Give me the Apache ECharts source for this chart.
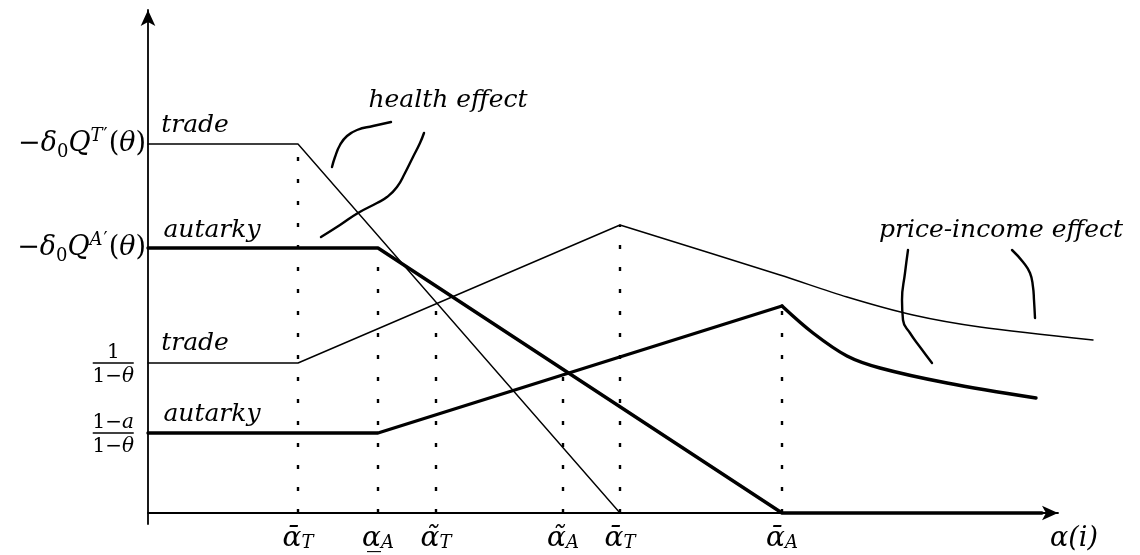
<!DOCTYPE html>
<html>
<head>
<meta charset="utf-8">
<script src="https://cdn.jsdelivr.net/npm/echarts@6/dist/echarts.min.js"></script>
<style>html,body{margin:0;padding:0;background:#fff;}#c{width:1140px;height:555px;}</style>
</head>
<body>
<div id="c"></div>
<script>
// ---- data (x: position along alpha(i), y: value) ----
const tradeHealthX = [0, 150, 472];
const tradeHealthY = [369, 369, 0];
const autarkyHealthX = [0, 230, 634, 894];
const autarkyHealthY = [265, 265, 0, 0];
const tradePIRiseX = [0, 150, 472];
const tradePIRiseY = [150, 150, 288];
const tradePIFallX = [472, 632, 699, 765, 832, 945];
const tradePIFallY = [288, 238, 216, 198, 186, 173];
const autPIRiseX = [0, 230, 634];
const autPIRiseY = [80, 80, 207];
const autPIFallX = [634, 665, 699, 732, 799, 888];
const autPIFallY = [207, 180, 157, 145, 130, 115];
// dotted guides
const dotX = [150, 230, 288, 415, 472, 634];
const dotTop = [369, 265, 209, 139, 288, 207];
// brace strokes
const health1X = [184, 187, 192, 199, 209, 225, 243];
const health1Y = [346, 356, 368, 377, 383, 387, 391];
const health2X = [276, 272, 265, 257, 249, 239, 229, 210, 192, 173];
const health2Y = [380, 370, 356, 340, 326, 316, 310, 300, 288, 276];
const pi1X = [760, 757, 754, 755, 762, 772, 784];
const pi1Y = [263, 240, 213, 193, 180, 166, 150];
const pi2X = [864, 875, 882, 885, 886, 887];
const pi2Y = [263, 251, 240, 226, 213, 195];
// tick labels
const xTickValues = [150, 230, 288, 415, 472, 634];
const xTickLabels = ['\u03B1\u0304_T', '\u03B1\u0332_A', '\u03B1\u0303_T', '\u03B1\u0303_A', '\u03B1\u0304_T', '\u03B1\u0304_A'];
const yTickValues = [369, 265, 150, 80];
const yTickLabels = [
  '{m|\u2212}{i|\u03B4}{sb|0}{i|Q}{sp|T}{pr|\u2032}{m|(}{i|\u03B8}{m|)}',
  '{m|\u2212}{i|\u03B4}{sb|0}{i|Q}{sp|A}{pr|\u2032}{m|(}{i|\u03B8}{m|)}',
  '{fn|1}{g|}\n{bar|}{g|}\n{fd|1\u2212}{fi|\u03B8}{g|}',
  '{fn|1\u2212}{fni|a}{g|}\n{bar|}{g|}\n{fd|1\u2212}{fi|\u03B8}{g|}'
];
const axisName = '\u03B1(i)';
// annotation texts
const annX = [47, 64, 47, 64, 300, 853];
const annY = [388, 283, 170, 99, 413, 283];
const annText = ['trade', 'autarky', 'trade', 'autarky', 'health effect', 'price-income effect'];

// ---- chart ----
const F = 'DejaVu Serif';
const zip = (xs, ys) => xs.map((x, i) => [x, ys[i]]);
const chart = echarts.init(document.getElementById('c'), null, {renderer: 'canvas'});

const thin = 1.4, thick = 3.4;
function lineSeries(xs, ys, w, smooth) {
  return {type: 'line', data: zip(xs, ys), showSymbol: false, symbol: 'none', clip: false,
    smooth: smooth || false, lineStyle: {color: '#000', width: w, cap: 'round', join: 'round'}, z: 5, silent: true};
}
const series = [];
dotX.forEach((x, i) => {
  series.push({type: 'line', data: [[x, 0], [x, dotTop[i]]], symbol: 'none', clip: false, silent: true, z: 2,
    lineStyle: {color: '#000', width: 2.4, type: [4, 18], cap: 'butt'}});
});
series.push(lineSeries(tradeHealthX, tradeHealthY, thin));
series.push(lineSeries(autarkyHealthX, autarkyHealthY, thick));
series.push(lineSeries(tradePIRiseX, tradePIRiseY, thin));
series.push(lineSeries(tradePIFallX, tradePIFallY, thin, 0.3));
series.push(lineSeries(autPIRiseX, autPIRiseY, thick));
series.push(lineSeries(autPIFallX, autPIFallY, thick, 0.35));
series.push(lineSeries(health1X, health1Y, 2.4, 0.5));
series.push(lineSeries(health2X, health2Y, 2.4, 0.5));
series.push(lineSeries(pi1X, pi1Y, 2.4, 0.5));
series.push(lineSeries(pi2X, pi2Y, 2.4, 0.5));
series.push({type: 'scatter', symbolSize: 0, silent: true, clip: false, z: 6,
  itemStyle: {opacity: 1},
  data: annX.map((x, i) => ({value: [x, annY[i]], name: annText[i]})),
  label: {show: true, position: 'inside', formatter: p => p.name, color: '#000', opacity: 1,
    fontFamily: F, fontStyle: 'italic', fontSize: 25}});

const xRich = {
  a: {fontFamily: F, fontStyle: 'italic', fontSize: 28, lineHeight: 26, color: '#000'},
  s: {fontFamily: F, fontStyle: 'italic', fontSize: 18, lineHeight: 14, verticalAlign: 'bottom', color: '#000'}
};
const yRich = {
  m: {fontFamily: F, fontSize: 27, lineHeight: 34, color: '#000'},
  i: {fontFamily: F, fontStyle: 'italic', fontSize: 27, lineHeight: 34, color: '#000'},
  sb: {fontFamily: F, fontSize: 18, lineHeight: 14, verticalAlign: 'bottom', color: '#000'},
  sp: {fontFamily: F, fontStyle: 'italic', fontSize: 18, lineHeight: 14, verticalAlign: 'top', color: '#000'},
  pr: {fontFamily: F, fontSize: 18, lineHeight: 14, verticalAlign: 'top', padding: [0, 1, 0, 1], color: '#000'},
  fn: {fontFamily: F, fontSize: 20, lineHeight: 24, align: 'center', padding: [8, 0, 0, 0], color: '#000'},
  fni: {fontFamily: F, fontStyle: 'italic', fontSize: 20, lineHeight: 24, align: 'center', padding: [8, 0, 0, 0], color: '#000'},
  fd: {fontFamily: F, fontSize: 20, lineHeight: 24, align: 'center', color: '#000'},
  fi: {fontFamily: F, fontStyle: 'italic', fontSize: 20, lineHeight: 24, align: 'center', color: '#000'},
  bar: {width: 41, height: 1.3, lineHeight: 4, fontSize: 1, backgroundColor: '#000', align: 'center'},
  g: {width: 12, lineHeight: 4, fontSize: 1, align: 'center'}
};

chart.setOption({
  animation: false,
  backgroundColor: '#fff',
  grid: [
    {left: 148, right: 40, top: 10, bottom: 31, containLabel: false, outerBoundsMode: 'none'},
    {left: 148, right: 82, top: 10, bottom: 31, containLabel: false, outerBoundsMode: 'none'}
  ],
  xAxis: [
    {type: 'value', gridIndex: 0, min: 0, max: 952, show: false},
    {
      type: 'value', gridIndex: 1, min: 0, max: 910,
      axisLine: {onZero: true, lineStyle: {color: '#000', width: 1.8}, symbol: ['none', 'arrow'], symbolSize: [11, 16]},
      axisTick: {show: false}, splitLine: {show: false},
      axisLabel: {customValues: xTickValues, margin: 2,
        formatter: v => { const t = xTickLabels[xTickValues.indexOf(v)]; if (!t) return ''; const p = t.split('_'); return '{a|' + p[0] + '}{s|' + p[1] + '}'; },
        rich: xRich},
      name: axisName, nameLocation: 'end', nameGap: 16,
      nameTextStyle: {fontFamily: F, fontStyle: 'italic', fontSize: 27, color: '#000', align: 'center', verticalAlign: 'top', padding: [12, 0, 0, 0]}
    }
  ],
  yAxis: [
    {type: 'value', gridIndex: 0, min: -11, max: 503, show: false},
    {
      type: 'value', gridIndex: 1, min: -11, max: 503,
      axisLine: {show: true, lineStyle: {color: '#000', width: 1.8}, symbol: ['none', 'arrow'], symbolSize: [11, 16]},
      axisTick: {show: false}, splitLine: {show: false},
      axisLabel: {customValues: yTickValues, margin: 2,
        formatter: v => yTickLabels[yTickValues.indexOf(v)] || '', rich: yRich}
    }
  ],
  series: series
});
</script>
</body>
</html>
